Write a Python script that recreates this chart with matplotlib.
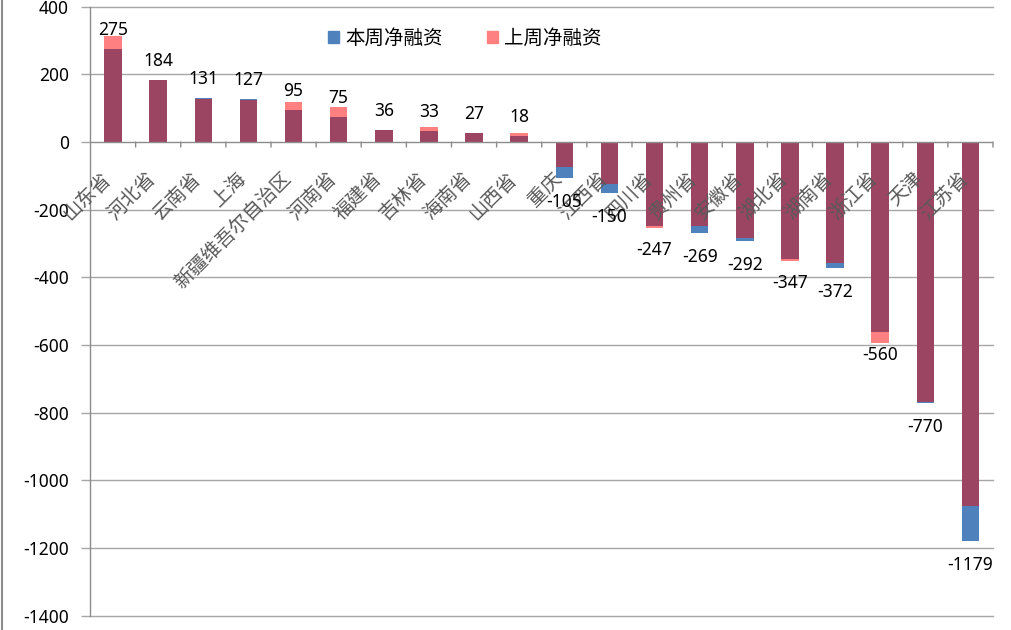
import matplotlib
matplotlib.use("Agg")
import matplotlib.pyplot as plt
import numpy as np
from matplotlib.lines import Line2D

provinces = ["山东省", "河北省", "云南省", "上海", "新疆维吾尔自治区", "河南省", "福建省", "吉林省",
             "海南省", "山西省", "重庆", "江西省", "四川省", "贵州省", "安徽省", "湖北省", "湖南省",
             "浙江省", "天津", "江苏省"]
this_week = [275, 184, 131, 127, 95, 75, 36, 33, 27, 18, -105, -150, -247, -269, -292, -347, -372,
             -560, -770, -1179]
last_week = [314, 184, 128, 124, 117, 104, 36, 44, 27, 26, -73, -124, -254, -247, -284, -352, -357,
             -595, -767, -1075]
series_names = ["本周净融资", "上周净融资"]
y_ticks = [400, 200, 0, -200, -400, -600, -800, -1000, -1200, -1400]

BLUE = "#4F81BD"
PINK = "#FF8080"
MAROON = "#9C4562"
GRID = "#A6A6A6"
AXIS = "#8C8C8C"

fig = plt.figure(figsize=(10.12, 6.3), dpi=100)
ax = fig.add_axes([90.5 / 1012, 1 - 615.7 / 630, (993 - 90.5) / 1012, (615.7 - 6.7) / 630])

a = np.array(this_week, dtype=float)
b = np.array(last_week, dtype=float)
x = np.arange(len(provinces))
overlap = np.where(np.abs(a) < np.abs(b), a, b)
w = 0.386

ax.bar(x, b, width=w, color=PINK, zorder=2)
ax.bar(x, a, width=w, color=BLUE, zorder=2)
ax.bar(x, overlap, width=w, color=MAROON, zorder=3)

ax.set_xlim(-0.5, len(provinces) - 0.5)
ax.set_ylim(-1400, 400)
ax.set_yticks(y_ticks)
ax.set_yticklabels([str(v) for v in y_ticks], fontfamily="Noto Sans", fontsize=12.5, color="#000000")
ax.tick_params(axis="y", length=6.5, width=1, color=GRID, pad=9)
ax.set_xticks([])
for yv in y_ticks:
    if yv != 0:
        ax.axhline(yv, color=GRID, linewidth=1, zorder=0, clip_on=False)
for s in ["top", "right", "bottom"]:
    ax.spines[s].set_visible(False)
ax.spines["left"].set_color(AXIS)
ax.spines["left"].set_linewidth(1)

ax.axhline(0, color=AXIS, linewidth=1, zorder=4)
# tick marks at category boundaries
for bx in list(x + 0.5):
    ax.annotate("", xy=(bx, 0), xycoords="data", xytext=(0, -5), textcoords="offset pixels",
                arrowprops=dict(arrowstyle="-", color=AXIS, lw=1, shrinkA=0, shrinkB=0))

# category labels
for i, name in enumerate(provinces):
    ax.annotate(name, xy=(i, 0), xycoords="data", xytext=(2, -26), textcoords="offset pixels",
                rotation=45, rotation_mode="default", ha="right", va="top",
                fontfamily=["Noto Sans CJK SC", "DejaVu Sans"], fontsize=14, color="#595959",
                zorder=6)

# data labels
for i, v in enumerate(this_week):
    off = 10 if v >= 0 else -15
    ax.annotate(str(v), xy=(i, v), xytext=(0, off), textcoords="offset pixels",
                ha="center", va="bottom" if v >= 0 else "top",
                fontfamily="Noto Sans", fontsize=12.5, color="#000000", zorder=6)

# legend
handles = [plt.Rectangle((0, 0), 1, 1, color=BLUE), plt.Rectangle((0, 0), 1, 1, color=PINK)]
leg = fig.legend(handles, series_names, loc="center", bbox_to_anchor=(464.5 / 1012, 1 - 38 / 630),
                 ncol=2, frameon=False, handlelength=0.57, handleheight=0.57, handletextpad=0.31,
                 columnspacing=2.27, borderpad=0, borderaxespad=0,
                 prop={"family": ["Noto Sans CJK SC", "DejaVu Sans"], "size": 14})

# outer chart border at left
fig.add_artist(Line2D([2.5 / 1012, 2.5 / 1012], [0, 1], color=AXIS, lw=1.5, transform=fig.transFigure))

fig.savefig("out.png", dpi=100)
